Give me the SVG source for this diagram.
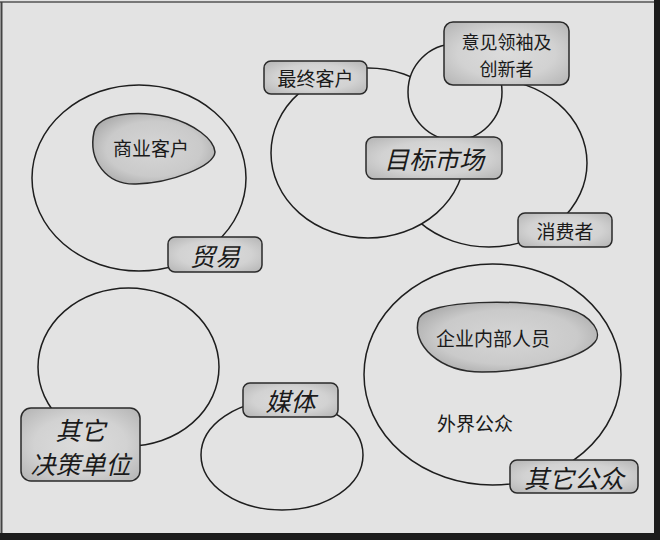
<svg xmlns="http://www.w3.org/2000/svg" width="660" height="540" viewBox="0 0 660 540">
<defs>
<radialGradient id="lg" cx="50%" cy="50%" r="65%">
<stop offset="0" stop-color="#dcdcdc"/>
<stop offset="0.6" stop-color="#d2d2d2"/>
<stop offset="1" stop-color="#b8b8b8"/>
</radialGradient>
<radialGradient id="bg2" cx="50%" cy="50%" r="60%">
<stop offset="0" stop-color="#d6d6d6"/>
<stop offset="0.65" stop-color="#cacaca"/>
<stop offset="1" stop-color="#a8a8a8"/>
</radialGradient>
</defs>
<style>
.ring{fill:none;stroke:#1e1e1e;stroke-width:1.5}
.ringf{fill:#e3e3e3;stroke:#1e1e1e;stroke-width:1.5}
.box{fill:url(#lg);stroke:#2a2a2a;stroke-width:1.5}
.blob{fill:url(#bg2);stroke:#2a2a2a;stroke-width:1.5}
.t{font-family:"Noto Sans CJK SC","Noto Sans",sans-serif;font-size:19px;fill:#1a1a1a;text-anchor:middle;dominant-baseline:central}
.ti{font-family:"Noto Sans CJK SC","Noto Sans",sans-serif;font-size:25px;font-style:italic;fill:#1a1a1a;text-anchor:middle;dominant-baseline:central}
</style>
<rect x="0" y="0" width="660" height="540" fill="#e3e3e3"/>
<line x1="0" y1="2" x2="654" y2="2" stroke="#555" stroke-width="1.5"/>
<line x1="1.5" y1="2" x2="1.5" y2="533" stroke="#444" stroke-width="2"/>
<rect x="654" y="0" width="6" height="540" fill="#1c1c1c"/>
<rect x="0" y="533" width="660" height="7" fill="#1c1c1c"/>

<g id="rings">
<ellipse id="ring-trade" class="ring" cx="139" cy="178" rx="107" ry="93"/>
<ellipse id="ring-consumer" class="ringf" cx="489" cy="163" rx="98" ry="84"/>
<ellipse id="ring-final" class="ringf" cx="368" cy="153" rx="97" ry="85"/>
<ellipse id="ring-opinion" class="ringf" cx="455" cy="92" rx="47" ry="48"/>
<ellipse id="ring-decision" class="ring" cx="128.5" cy="367" rx="90.5" ry="79"/>
<ellipse id="ring-media" class="ring" cx="282" cy="455" rx="81" ry="55"/>
<ellipse id="ring-public" class="ring" cx="492.5" cy="374.5" rx="128.5" ry="110.5"/>
</g>

<g id="connectors"></g>

<g id="node-business">
<path class="blob" d="M94,132 C98,113 138,110 168,117 C194,124 214,139 215,152 C214,166 172,183 136,184 C106,185 88,160 94,132 Z"/>
<text class="t" x="151" y="147">商业客户</text>
</g>

<g id="node-internal">
<path class="blob" d="M419,318 C428,300 520,298 568,309 C594,316 602,334 595,342 C580,360 522,372 482,372 C440,372 410,345 419,318 Z"/>
<text class="t" x="493" y="337">企业内部人员</text>
</g>

<g id="node-external">
<text class="t" x="475" y="422">外界公众</text>
</g>

<g id="node-final">
<rect class="box" x="264" y="61" width="103" height="33" rx="7"/>
<text class="t" x="315.5" y="77.5">最终客户</text>
</g>

<g id="node-opinion">
<rect class="box" x="444" y="22" width="125" height="63" rx="9"/>
<text class="t" x="506.5" y="41" style="font-size:18px">意见领袖及</text>
<text class="t" x="506.5" y="68" style="font-size:18px">创新者</text>
</g>

<g id="node-target">
<rect class="box" x="366" y="137" width="136" height="42" rx="8"/>
<text class="ti" x="434" y="158">目标市场</text>
</g>

<g id="node-consumer">
<rect class="box" x="518" y="213" width="94" height="34" rx="7"/>
<text class="t" x="565" y="230">消费者</text>
</g>

<g id="node-trade">
<rect class="box" x="168" y="237" width="94" height="35" rx="7"/>
<text class="ti" x="215" y="254.5">贸易</text>
</g>

<g id="node-decision">
<rect class="box" x="21" y="408" width="119" height="73" rx="10"/>
<text class="ti" x="80.5" y="429">其它</text>
<text class="ti" x="80.5" y="463">决策单位</text>
</g>

<g id="node-media">
<rect class="box" x="243" y="383" width="95" height="34" rx="7"/>
<text class="ti" x="290.5" y="400">媒体</text>
</g>

<g id="node-otherpublic">
<rect class="box" x="510" y="460" width="128" height="33" rx="7"/>
<text class="ti" x="574" y="476.5">其它公众</text>
</g>
</svg>
